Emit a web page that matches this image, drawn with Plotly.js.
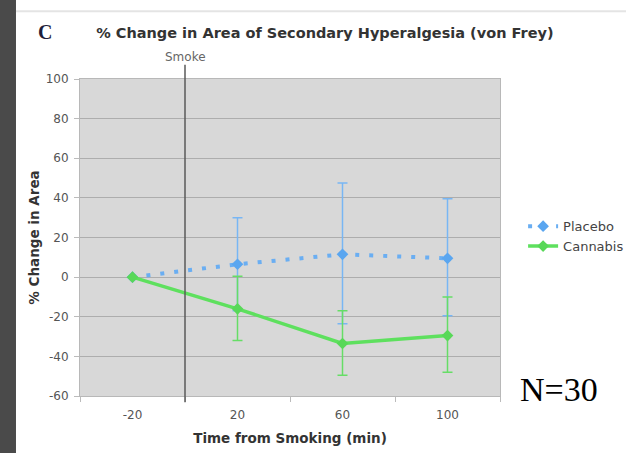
<!DOCTYPE html>
<html>
<head>
<meta charset="utf-8">
<script src="https://cdn.plot.ly/plotly-3.0.1.min.js"></script>
<style>
  html, body { margin: 0; padding: 0; background: #ffffff; }
  #chart { width: 626px; height: 453px; }
</style>
</head>
<body>
<div id="chart"></div>
<script>
// Categories (time from smoking, min)
const timeLabels = ['-20', '20', '60', '100'];

// Placebo series
const placeboMean = [0, 6.5, 11.5, 9.5];
const placeboErrPlus = [0, 23.5, 36, 30];
const placeboErrMinus = [0, 23.5, 35, 29];

// Cannabis series
const cannabisMean = [0, -16, -33.5, -29.5];
const cannabisErrPlus = [0, 16.5, 16.5, 19.5];
const cannabisErrMinus = [0, 16, 16, 18.5];

// Y axis ticks
const yTicks = [-60, -40, -20, 0, 20, 40, 60, 80, 100];

const placebo = {
  x: timeLabels, y: placeboMean, name: 'Placebo', type: 'scatter', mode: 'lines+markers',
  line: { color: '#6aaef2', width: 4, dash: '4px,10px' },
  marker: { symbol: 'diamond', size: 9, color: '#5aa6f0' },
  error_y: { type: 'data', symmetric: false, array: placeboErrPlus, arrayminus: placeboErrMinus,
             color: '#78b6f4', thickness: 1.5, width: 5 }
};
const cannabis = {
  x: timeLabels, y: cannabisMean, name: 'Cannabis', type: 'scatter', mode: 'lines+markers',
  line: { color: '#5ee05e', width: 3.5 },
  marker: { symbol: 'diamond', size: 9, color: '#58d858' },
  error_y: { type: 'data', symmetric: false, array: cannabisErrPlus, arrayminus: cannabisErrMinus,
             color: '#66dd66', thickness: 1.5, width: 5 }
};

const layout = {
  width: 626, height: 453,
  margin: { l: 80, r: 126, t: 79, b: 57, autoexpand: false },
  paper_bgcolor: '#ffffff',
  plot_bgcolor: '#d8d8d8',
  font: { family: 'DejaVu Sans, Verdana, sans-serif', color: '#555', size: 12 },
  title: {
    text: '% Change in Area of Secondary Hyperalgesia (von Frey)',
    font: { family: 'DejaVu Sans, Verdana, sans-serif', size: 14.5, color: '#333', weight: 'bold' },
    x: 0.519, xanchor: 'center', y: 0.927, yanchor: 'middle'
  },
  xaxis: {
    type: 'category',
    range: [-0.5, 3.5],
    showgrid: false,
    ticks: 'outside', tickson: 'boundaries', ticklen: 5, tickcolor: '#bbbbbb',
    ticklabelstandoff: 8,
    tickfont: { size: 12, color: '#555' },
    showline: true, linecolor: '#b8b8b8', mirror: true,
    title: { text: 'Time from Smoking (min)', standoff: 12,
             font: { size: 13.5, color: '#333', weight: 'bold' } }
  },
  yaxis: {
    range: [-60, 100], tickvals: yTicks, ticktext: yTicks.map(String),
    showgrid: true, gridcolor: '#adadad', gridwidth: 1,
    zeroline: false,
    ticks: 'outside', ticklen: 5, tickcolor: '#bbbbbb',
    ticklabelstandoff: 3,
    tickfont: { size: 12, color: '#555' },
    showline: true, linecolor: '#b8b8b8', mirror: true,
    title: { text: '% Change in Area', standoff: 2,
             font: { size: 13.5, color: '#333', weight: 'bold' } }
  },
  showlegend: true,
  legend: {
    x: 1.055, xanchor: 'left', y: 0.583, yanchor: 'top',
    bgcolor: 'rgba(0,0,0,0)', font: { size: 13, color: '#444' },
    tracegroupgap: 0
  },
  shapes: [
    // Smoke marker line
    { type: 'line', xref: 'x', yref: 'paper', x0: 0.5, x1: 0.5, y0: -0.02, y1: 1.045,
      line: { color: '#5a5a5a', width: 1.5 }, layer: 'above' },
    // slide dark strip on the left
    { type: 'rect', xref: 'paper', yref: 'paper', x0: -0.1905, x1: -0.1524, y0: -0.18, y1: 1.25,
      fillcolor: '#4a4a4a', line: { width: 0 }, layer: 'above' },
    // thin top rule
    { type: 'line', xref: 'paper', yref: 'paper', x0: -0.1524, x1: 1.31, y0: 1.2135, y1: 1.2135,
      line: { color: '#e4e4e4', width: 2 }, layer: 'above' }
  ],
  annotations: [
    { text: 'Smoke', xref: 'x', yref: 'paper', x: 0.5, y: 1.068, showarrow: false,
      font: { size: 12, color: '#666' }, xanchor: 'center', yanchor: 'middle' },
    { text: 'C', xref: 'paper', yref: 'paper', x: -0.083, y: 1.147, showarrow: false,
      font: { family: 'Liberation Serif, Times New Roman, serif', size: 20, color: '#1e1e3a', weight: 'bold' },
      xanchor: 'center', yanchor: 'middle' },
    { text: 'N=30', xref: 'paper', yref: 'paper', x: 1.14, y: 0.022, showarrow: false,
      font: { family: 'Liberation Serif, Times New Roman, serif', size: 34, color: '#000' },
      xanchor: 'center', yanchor: 'middle' }
  ]
};

Plotly.newPlot('chart', [placebo, cannabis], layout, { displayModeBar: false, staticPlot: true });
</script>
</body>
</html>
